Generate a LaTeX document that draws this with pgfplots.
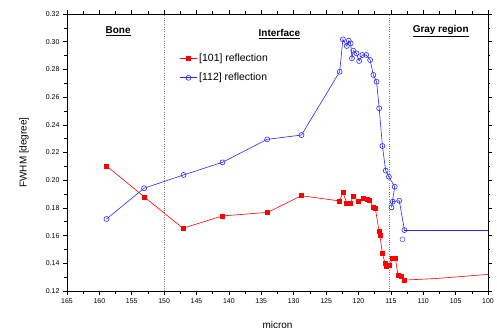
\documentclass[border=0pt]{standalone}
\usepackage{pgfplots}
\pgfplotsset{compat=1.18}
\usepackage{fontspec}
\setmainfont{Liberation Sans}
\definecolor{myred}{RGB}{255,0,0}
\definecolor{myblue}{RGB}{40,40,255}
\begin{document}
\begin{tikzpicture}
\begin{axis}[
  scale only axis, width=421bp, height=277bp,
  x dir=reverse, xmin=100, xmax=165, ymin=0.12, ymax=0.32,
  xtick={100,105,110,115,120,125,130,135,140,145,150,155,160,165},
  ytick={0.12,0.14,0.16,0.18,0.20,0.22,0.24,0.26,0.28,0.30,0.32},
  minor x tick num=1, minor y tick num=1,
  tick align=outside, major tick length=4bp, minor tick length=2.5bp,
  tick style={black, line width=0.6pt},
  /pgf/number format/assume math mode=true,
  xticklabel style={font=\fontsize{7}{8}\selectfont},
  yticklabel style={font=\fontsize{7}{8}\selectfont, /pgf/number format/.cd, fixed, fixed zerofill, precision=2},
  xlabel={micron}, ylabel={FWHM [degree]},
  label style={font=\fontsize{10}{12}\selectfont},
  xlabel style={at={(axis description cs:0.5,-0.123)}, anchor=center},
  ylabel style={at={(axis description cs:-0.102,0.5)}, anchor=center},
  axis line style={line width=0.8pt},
  legend style={draw=none, fill=none, at={(0.26,0.87)}, anchor=north west,
    font=\fontsize{10.5}{12}\selectfont, row sep=6bp},
  legend cell align=left,
  clip=true,
]
\draw[gray, line width=0.7pt, dash pattern=on 0.7pt off 1.6pt] (axis cs:150,0.12) -- (axis cs:150,0.32);
\draw[gray, line width=0.7pt, dash pattern=on 0.7pt off 1.6pt] (axis cs:115.2,0.12) -- (axis cs:115.2,0.32);

\addplot[myred, line width=0.6pt, mark=square*, mark size=2bp, mark options={solid}] coordinates {
(158.9,0.2103) (153.0,0.1877) (147.1,0.1653) (141.0,0.1742) (134.0,0.1768) (128.8,0.1888)
(122.9,0.1850) (122.4,0.1913) (121.8,0.1833) (121.3,0.1833) (120.8,0.1881) (120.0,0.1845)
(119.2,0.1869) (118.7,0.1862) (118.3,0.1857) (117.7,0.1804) (117.4,0.1797) (116.8,0.1628)
(116.7,0.1604) (116.3,0.1472) (115.9,0.1400) (115.7,0.1375) (115.2,0.1388) (114.7,0.1436)
(114.3,0.1436) (113.9,0.1316) (113.4,0.1303) (112.9,0.1279)
};
\addlegendentry{[101] reflection}
\addplot[myblue, line width=0.6pt, mark=o, mark size=2.5bp, mark options={solid, fill=white}] coordinates {
(158.9,0.1720) (153.1,0.1942) (147.0,0.2038) (141.0,0.2129) (134.1,0.2295) (128.8,0.2326)
(122.9,0.2783) (122.4,0.3017) (121.8,0.2969) (121.5,0.3007) (121.2,0.2988) (121.0,0.2880)
(120.8,0.2935) (120.3,0.2916) (119.9,0.2861) (119.4,0.2904) (118.8,0.2904) (118.2,0.2868)
(117.7,0.2760) (117.2,0.2711) (116.8,0.2519) (116.3,0.2247) (115.8,0.2069) (115.3,0.2025)
(114.4,0.1953) (114.9,0.1804) (114.7,0.1845) (113.7,0.1852) (112.9,0.1640)
};
\addlegendentry{[112] reflection}
\addplot[myblue, only marks, mark=o, mark size=2.5bp, mark options={solid, fill=white}, forget plot] coordinates {(113.2,0.1573)};
\addplot[myred, line width=0.6pt, forget plot] coordinates {(112.9,0.1279) (108,0.1290) (100,0.1320)};
\addplot[myblue, line width=0.6pt, forget plot] coordinates {(112.9,0.1640) (100,0.1640)};

\node[font=\bfseries\fontsize{10}{11}\selectfont] at (axis cs:157.1,0.3077) {\underline{Bone}};
\node[font=\bfseries\fontsize{10}{11}\selectfont] at (axis cs:132.2,0.3056) {\underline{Interface}};
\node[font=\bfseries\fontsize{10}{11}\selectfont] at (axis cs:107.3,0.3077) {\underline{Gray region}};
\end{axis}
\pgfresetboundingbox
\useasboundingbox (-67bp,-43bp) rectangle (430bp,291bp);
\end{tikzpicture}
\end{document}
